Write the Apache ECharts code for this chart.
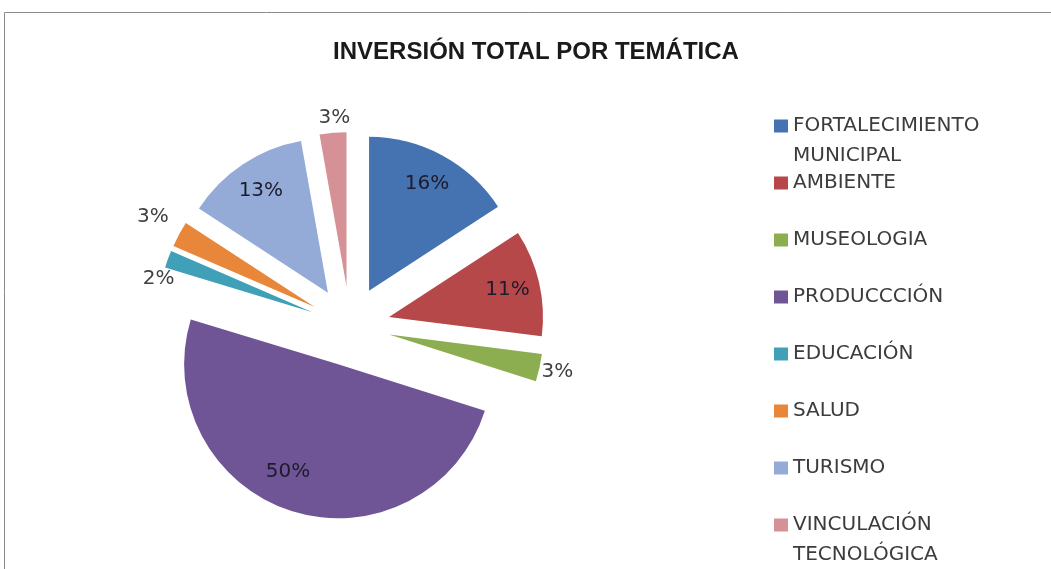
<!DOCTYPE html>
<html>
<head>
<meta charset="utf-8">
<title>Inversión total por temática</title>
<script src="https://cdn.jsdelivr.net/npm/echarts@6/dist/echarts.min.js"></script>
<style>
  html, body { margin: 0; padding: 0; background: #fff; }
  #chart { width: 1051px; height: 569px; }
</style>
</head>
<body>
<div id="chart"></div>
<script>
// datos (porcentaje de la inversion)
var categories = ['FORTALECIMIENTO MUNICIPAL', 'AMBIENTE', 'MUSEOLOGIA', 'PRODUCCCIÓN',
                  'EDUCACIÓN', 'SALUD', 'TURISMO', 'VINCULACIÓN TECNOLÓGICA'];
var values = [15.8, 11.2, 2.9, 49.8, 1.8, 2.7, 13.0, 2.8];
var colors = ['#4572b0', '#b6484a', '#8cae50', '#6f5596', '#3fa0b8', '#e8873a', '#93abd6', '#d69196'];
// que porciones llevan la etiqueta dentro
var labelInside = [true, true, false, true, false, false, true, false];

var cx = 350, cy = 326, R = 154, gap = 40;
// pequeno ajuste de etiquetas que Excel separa entre si
var labelNudge = { 3: [-14, -8], 4: [8, 26], 5: [-10, -9], 7: [3, 3] };

function pct(p) {
    return Math.round(p.percent) + '%';
}

function buildData(show) {
    return categories.map(function (name, i) {
        return {
            name: name,
            value: values[i],
            selected: true,
            itemStyle: { color: colors[i] },
            label: { show: show(i) }
        };
    });
}

function overlay(radius, show, color) {
    return {
        type: 'pie',
        z: 5,
        center: [cx, cy],
        radius: radius,
        startAngle: 90,
        clockwise: true,
        selectedMode: 'multiple',
        selectedOffset: gap,
        silent: true,
        avoidLabelOverlap: false,
        animation: false,
        itemStyle: { color: 'transparent', borderWidth: 0 },
        emphasis: { disabled: true },
        labelLine: { show: false },
        label: {
            position: 'inside',
            formatter: pct,
            color: color,
            fontSize: 20,
            fontFamily: 'DejaVu Sans'
        },
        labelLayout: function (params) {
            var n = labelNudge[params.dataIndex];
            return n ? { dx: n[0], dy: n[1] } : {};
        },
        data: buildData(show).map(function (d) {
            d.itemStyle = { color: 'transparent' };
            return d;
        })
    };
}

// leyenda: un bloque por categoria para poder fijar la separacion de Excel
var legends = categories.map(function (name, i) {
    var iconY = 126 + i * 57;
    var twoLines = name.indexOf(' ') > 0;
    return {
        orient: 'vertical',
        left: 774,
        top: twoLines ? iconY - 45 : iconY - 15,
        padding: 0,
        itemWidth: 14,
        itemHeight: 13,
        selectedMode: false,
        icon: 'rect',
        textStyle: {
            fontFamily: 'DejaVu Sans',
            fontSize: 20,
            color: '#3c3c3c',
            lineHeight: 30
        },
        formatter: function (n) {
            var k = n.indexOf(' ');
            return k > 0 ? '\n' + n.slice(0, k) + '\n' + n.slice(k + 1) : n;
        },
        data: [{ name: name, itemStyle: { color: colors[i] } }]
    };
});

var myChart = echarts.init(document.getElementById('chart'));
var option = {
    animation: false,
    textStyle: { fontFamily: 'DejaVu Sans' },
    graphic: [{
        type: 'rect',
        shape: { x: 4.5, y: 12.5, width: 1200, height: 700 },
        style: { fill: 'none', stroke: '#8a8a8a', lineWidth: 1 },
        silent: true
    }],
    title: {
        text: 'INVERSIÓN TOTAL POR TEMÁTICA',
        left: 536,
        top: 39,
        padding: 0,
        textAlign: 'center',
        textStyle: {
            fontFamily: 'Liberation Sans',
            fontWeight: 'bold',
            fontSize: 24,
            lineHeight: 27,
            color: '#1a1a1a'
        }
    },
    legend: legends,
    series: [
        {
            type: 'pie',
            z: 2,
            center: [cx, cy],
            radius: R,
            startAngle: 90,
            clockwise: true,
            selectedMode: 'multiple',
            selectedOffset: gap,
            avoidLabelOverlap: false,
            animation: false,
            emphasis: { scale: false },
            label: { show: false },
            labelLine: { show: false },
            data: buildData(function () { return false; })
        },
        overlay(R * 1.54, function (i) { return labelInside[i]; }, '#1c1c2c'),
        overlay(R * 2.2, function (i) { return !labelInside[i]; }, '#404040')
    ]
};
myChart.setOption(option);
</script>
</body>
</html>
